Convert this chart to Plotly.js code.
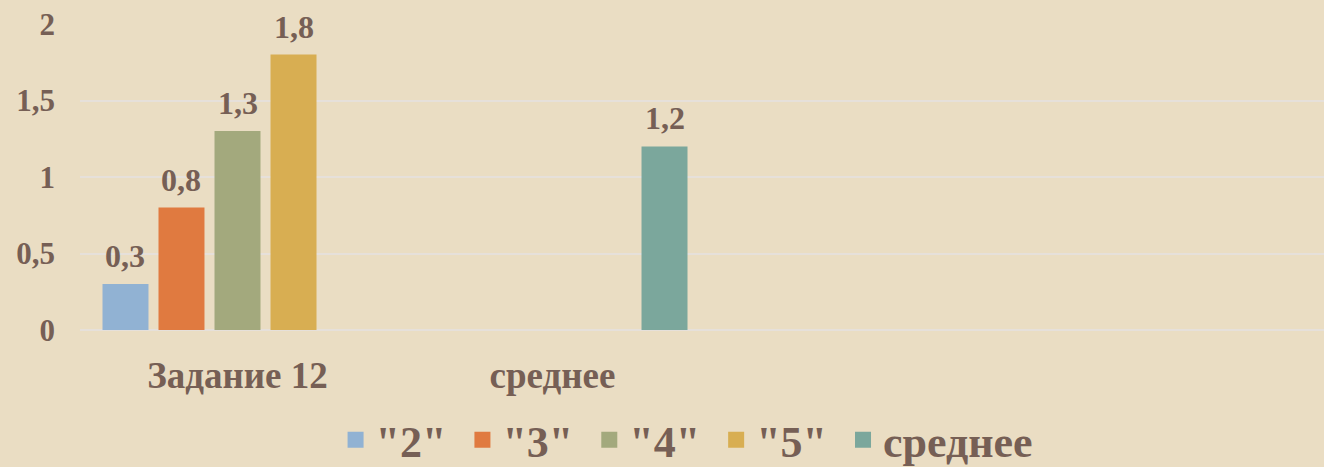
<!DOCTYPE html>
<html>
<head>
<meta charset="utf-8">
<script src="https://cdn.plot.ly/plotly-3.0.1.min.js"></script>
<style>html,body{margin:0;padding:0;background:#eaddc3;}</style>
</head>
<body>
<div id="chart" style="width:1324px;height:467px;"></div>
<script>
// ---- data ----
const categories = ["Задание 12", "среднее"];
const seriesNames = ['"2"', '"3"', '"4"', '"5"', 'среднее'];
const grade2 = [0.3, null];
const grade3 = [0.8, null];
const grade4 = [1.3, null];
const grade5 = [1.8, null];
const average = [null, 1.2];
const yTicks = [0, 0.5, 1, 1.5, 2];

// ---- styles ----
const colors = ['#91b2d3', '#e07a40', '#a3a97d', '#d8ae52', '#7ba79c'];
const textColor = '#765f55';
const fontFamily = '"Liberation Serif", "Times New Roman", serif';
const bg = '#eaddc3';
const gridColor = '#e6e0da';
const bargap = 0.111, bargroupgap = 0.179;

const seriesValues = [grade2, grade3, grade4, grade5, average];
const xIdx = categories.map((c, i) => i);

const traces = [];
const annotations = [];
const nS = seriesValues.length;
const slot = (1 - bargap) / nS;
seriesValues.forEach((vals, s) => {
  traces.push({
    type: 'bar', x: xIdx, y: vals, name: seriesNames[s],
    marker: {color: colors[s]}, showlegend: false, hoverinfo: 'y'
  });
  // legend proxy (larger square symbol, a little extra spacing after each entry)
  traces.push({
    type: 'scatter', mode: 'markers', x: [null], y: [null],
    name: seriesNames[s] + (s < nS - 1 ? '\u00a0' : ''),
    marker: {symbol: 'square', size: 16, color: colors[s]}, showlegend: true
  });
  const off = -(1 - bargap) / 2 + (s + 0.5) * slot;
  vals.forEach((v, i) => {
    if (v === null) return;
    annotations.push({
      x: xIdx[i] + off, y: v, xref: 'x', yref: 'y',
      text: String(v).replace('.', ','), showarrow: false,
      yanchor: 'middle', yshift: 28,
      font: {family: fontFamily, size: 32, color: textColor, weight: 'bold'}
    });
  });
});

const layout = {
  width: 1324, height: 467,
  paper_bgcolor: bg, plot_bgcolor: bg,
  margin: {l: 80, r: 0, t: 24, b: 137, autoexpand: false},
  barmode: 'group', bargap: bargap, bargroupgap: bargroupgap,
  separators: ', ',
  font: {family: fontFamily, color: textColor, weight: 'bold'},
  xaxis: {
    range: [-0.5, -0.5 + 1244 / 315], tickvals: xIdx, ticktext: categories,
    showgrid: false, zeroline: false, showline: false, ticks: '',
    tickfont: {family: fontFamily, size: 37, color: textColor, weight: 'bold'},
    ticklabelstandoff: 20, fixedrange: true, automargin: false
  },
  yaxis: {
    range: [0, 2], tickvals: yTicks, ticktext: yTicks.map(v => String(v).replace('.', ',')),
    showgrid: true, gridcolor: gridColor, gridwidth: 2,
    zeroline: true, zerolinecolor: gridColor, zerolinewidth: 2,
    showline: false, ticks: '',
    tickfont: {family: fontFamily, size: 31, color: textColor, weight: 'bold'},
    ticklabelstandoff: 24, fixedrange: true, automargin: false
  },
  legend: {
    orientation: 'h', x: 0.488, xanchor: 'center', y: -0.36, yanchor: 'middle',
    font: {family: fontFamily, size: 44, color: textColor, weight: 'bold'},
    bgcolor: 'rgba(0,0,0,0)', itemclick: false, itemdoubleclick: false
  },
  annotations: annotations,
  showlegend: true
};

Plotly.newPlot('chart', traces, layout, {displayModeBar: false, staticPlot: true});
</script>
</body>
</html>
